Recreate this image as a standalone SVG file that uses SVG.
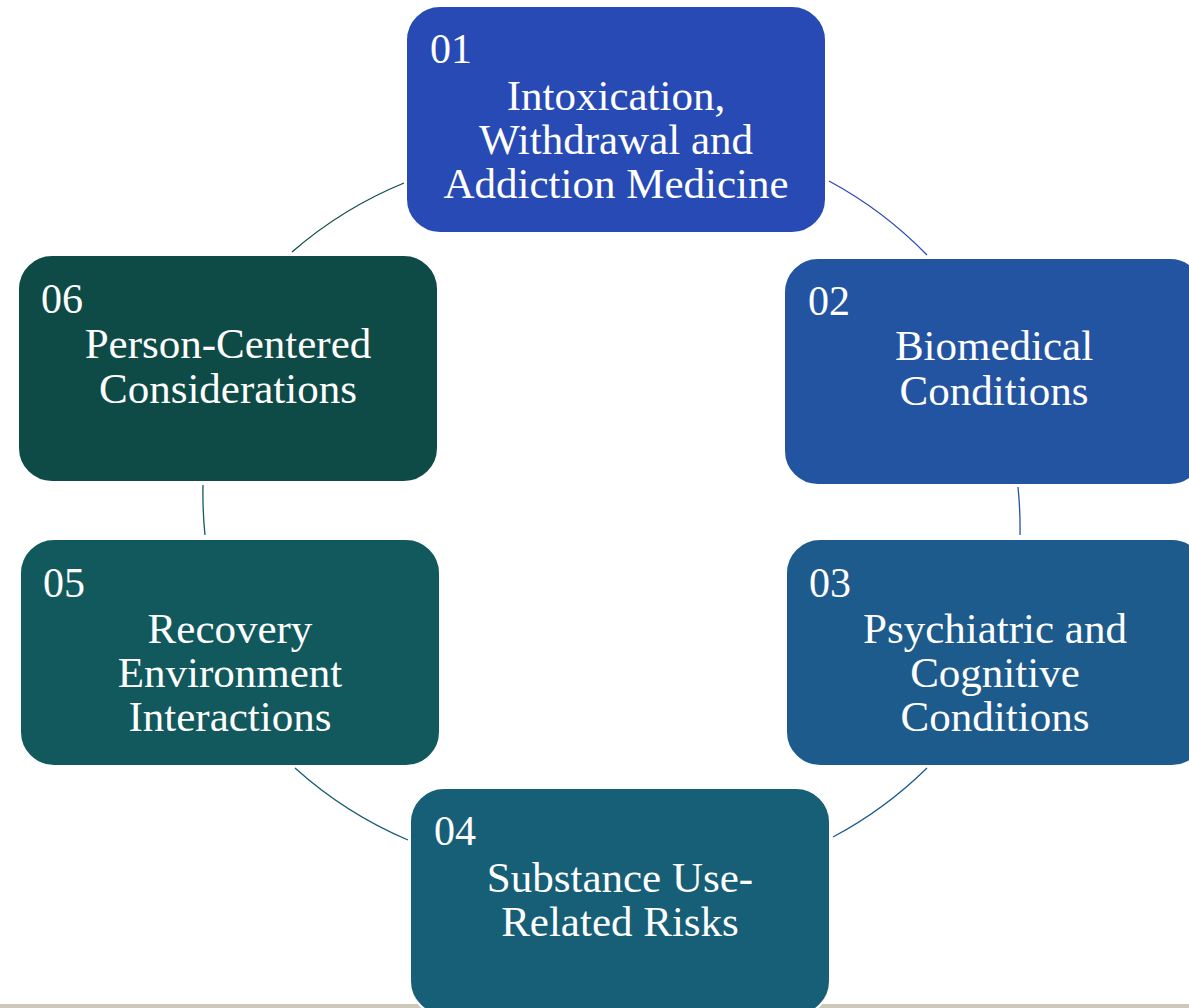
<svg xmlns="http://www.w3.org/2000/svg" width="1189" height="1008" viewBox="0 0 1189 1008">
  <style>
    .box { stroke: #ffffff; stroke-width: 2; }
    .num { font-family: "Liberation Serif", "Times New Roman", serif; font-size: 42px; fill: #ffffff; }
    .lbl { font-family: "Liberation Serif", "Times New Roman", serif; font-size: 43px; fill: #ffffff; text-anchor: middle; }
    .arc { fill: none; stroke-width: 1.3; }
  </style>
  <rect width="1189" height="1008" fill="#ffffff"/>
  <!-- page rule at the foot -->
  <rect x="0" y="1004" width="1189" height="4" fill="#cdc8bc"/>

  <g id="connectors">
    <path class="arc" stroke="#2a4bb4" d="M829,181 A405,405 0 0 1 927,255"/>
    <path class="arc" stroke="#2353a3" d="M1018,487 A405,405 0 0 1 1020,535"/>
    <path class="arc" stroke="#1d5b8d" d="M927,768 A405,405 0 0 1 833,837"/>
    <path class="arc" stroke="#165e77" d="M408,840 A405,405 0 0 1 295,768"/>
    <path class="arc" stroke="#125a5f" d="M205,535 A405,405 0 0 1 203,485"/>
    <path class="arc" stroke="#0f4c48" d="M292,252 A405,405 0 0 1 404,183"/>
  </g>

  <g id="node-01">
    <rect class="box" x="406" y="6" width="420" height="227" rx="34" fill="#284ab5"/>
    <text class="num" x="430" y="63">01</text>
    <text class="lbl" x="616" y="110">Intoxication,</text>
    <text class="lbl" x="616" y="154">Withdrawal and</text>
    <text class="lbl" x="616" y="198">Addiction Medicine</text>
  </g>

  <g id="node-02">
    <rect class="box" x="784" y="258" width="420" height="227" rx="34" fill="#2354a2"/>
    <text class="num" x="808" y="315">02</text>
    <text class="lbl" x="994" y="360">Biomedical</text>
    <text class="lbl" x="994" y="405">Conditions</text>
  </g>

  <g id="node-03">
    <rect class="box" x="786" y="539" width="420" height="227" rx="34" fill="#1d5b8d"/>
    <text class="num" x="809" y="597">03</text>
    <text class="lbl" x="995" y="643">Psychiatric and</text>
    <text class="lbl" x="995" y="687">Cognitive</text>
    <text class="lbl" x="995" y="731">Conditions</text>
  </g>

  <g id="node-04">
    <rect class="box" x="410" y="788" width="420" height="227" rx="34" fill="#175e77"/>
    <text class="num" x="434" y="845">04</text>
    <text class="lbl" x="620" y="892">Substance Use-</text>
    <text class="lbl" x="620" y="936">Related Risks</text>
  </g>

  <g id="node-05">
    <rect class="box" x="20" y="539" width="420" height="227" rx="34" fill="#12595e"/>
    <text class="num" x="43" y="597">05</text>
    <text class="lbl" x="230" y="643">Recovery</text>
    <text class="lbl" x="230" y="687">Environment</text>
    <text class="lbl" x="230" y="731">Interactions</text>
  </g>

  <g id="node-06">
    <rect class="box" x="18" y="255" width="420" height="227" rx="34" fill="#0e4b47"/>
    <text class="num" x="41" y="313">06</text>
    <text class="lbl" x="228" y="358">Person-Centered</text>
    <text class="lbl" x="228" y="403">Considerations</text>
  </g>
</svg>
